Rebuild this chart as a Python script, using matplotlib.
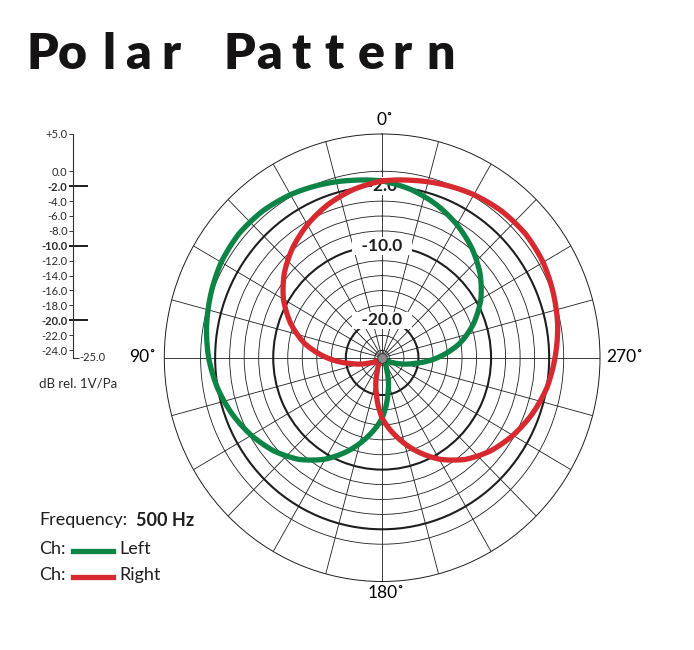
import numpy as np
import matplotlib.pyplot as plt
from matplotlib.lines import Line2D

W, H = 694, 650

# response in dB, angle counted counter-clockwise from 0 at the top
angles = list(range(0, 360, 10))
left_db = [-1.3, -0.85, -0.3, 0.25, 0.65, 0.8, 0.6, 0.1, -0.45, -1.1,
           -1.95, -3.0, -4.2, -5.55, -7.2, -9.3, -11.8, -14.4, -16.9, -20.3,
           -23.0, -24.3, -24.7, -24.6, -24.0, -22.8, -20.6, -17.4, -14.2, -11.6,
           -9.3, -7.4, -5.8, -4.4, -3.15, -2.1]
right_db = [-1.3, -2.1, -3.15, -4.4, -5.8, -7.4, -9.3, -11.6, -14.2, -17.4,
            -20.6, -22.8, -24.0, -24.6, -24.7, -24.3, -23.0, -20.3, -16.9, -14.4,
            -11.8, -9.3, -7.2, -5.55, -4.2, -3.0, -1.95, -1.2, -0.45, 0.1,
            0.6, 0.8, 0.65, 0.25, -0.3, -0.85]

ring_db = [0, -2, -4, -6, -8, -10, -12, -14, -16, -18, -20, -22, -24]
bold_db = [-2, -10, -20]
ring_labels = ['-2.0', '-10.0', '-20.0']
scale_ticks = [5, 0, -2, -4, -6, -8, -10, -12, -14, -16, -18, -20, -22, -24]
scale_labels = ['+5.0', '0.0', '-2.0', '-4.0', '-6.0', '-8.0', '-10.0', '-12.0',
                '-14.0', '-16.0', '-18.0', '-20.0', '-22.0', '-24.0']
degree_labels = ['0˚', '90˚', '180˚', '270˚']

GREEN = '#0b8446'
RED = '#d62a30'
INK = '#1e1e1e'
FONT = ['Lato', 'DejaVu Sans']

plt.rcParams['font.family'] = FONT

fig = plt.figure(figsize=(W / 100, H / 100), dpi=100)

# title, spaced out letter by letter
title = 'PolarPattern'
title_x = [42, 72.5, 108.5, 138, 170.5, 239.5, 269, 301.5, 334, 371, 401.5, 441]
for ch, x in zip(title, title_x):
    fig.text(x / W, 1 - 69 / H, ch, ha='center', va='baseline',
             fontsize=36, fontweight='heavy', color='#161314')

# polar plot (slightly squashed like the source)
ax = fig.add_axes([164.3 / W, (H - 581.5) / H, 435.7 / W, 447.5 / H],
                  projection='polar')
ax.set_aspect('auto')
ax.set_theta_zero_location('N')
ax.set_theta_direction(1)
ax.set_ylim(-25, 5)
ax.set_yticks(ring_db)
ax.set_yticklabels([])
ax.set_xticks(np.deg2rad(np.arange(0, 360, 15)))
ax.set_xticklabels([])
ax.tick_params(length=0)
ax.set_axisbelow(True)
ax.grid(True, color=INK, lw=0.6)
for val, gl in zip(ax.get_yticks(), ax.yaxis.get_gridlines()):
    if round(val) in bold_db:
        gl.set_linewidth(1.5)
ax.spines['polar'].set_linewidth(0.7)
ax.spines['polar'].set_color(INK)

for val, lab in zip(bold_db, ring_labels):
    ax.text(0, val, '  ' + lab + '  ', ha='center', va='center', fontsize=12.5,
            fontweight='bold', color=INK, zorder=2.5,
            bbox=dict(boxstyle='square,pad=0.05', fc='white', ec='none'))

th = np.deg2rad(angles + [360])
for vals, col in [(left_db, GREEN), (right_db, RED)]:
    line, = ax.plot(th, vals + vals[:1], color=col, lw=3.8, zorder=3,
                    solid_joinstyle='round')
    # let the polar transform draw curved segments between readings
    line.get_path()._interpolation_steps = 12
ax.plot([0], [-25], 'o', ms=7, color='#8a8a8a', mec='#333333', mew=0.6,
        zorder=4, clip_on=False)

# angle labels
fig.text(385 / W, 1 - 120 / H, degree_labels[0], ha='center', va='center',
         fontsize=12.5, color='black')
fig.text(156 / W, 1 - 357 / H, degree_labels[1], ha='right', va='center',
         fontsize=12.5, color='black')
fig.text(386 / W, 1 - 593 / H, degree_labels[2], ha='center', va='center',
         fontsize=12.5, color='black')
fig.text(606 / W, 1 - 357 / H, degree_labels[3], ha='left', va='center',
         fontsize=12.5, color='black')

# dB scale on the left
ax2 = fig.add_axes([73.3 / W, (H - 357.5) / H, 20 / W, 223.5 / H])
ax2.set_ylim(-25, 5)
ax2.set_xlim(0, 1)
ax2.patch.set_visible(False)
for side in ['right', 'top', 'bottom']:
    ax2.spines[side].set_visible(False)
ax2.spines['left'].set_linewidth(0.8)
ax2.spines['left'].set_color('#333333')
ax2.set_xticks([])
ax2.set_yticks(scale_ticks, scale_labels)
ax2.tick_params(axis='y', direction='out', length=3, width=0.7, pad=1.2,
                labelsize=8, color='#333333', labelcolor='#2b2b2b')
for val, tl in zip(scale_ticks, ax2.get_yticklabels()):
    if val in bold_db:
        tl.set_fontweight('bold')
ax2.hlines(bold_db, -0.2, 0.75, color=INK, lw=1.4, clip_on=False)
ax2.hlines([-25], 0, 0.3, color='#333333', lw=0.8, clip_on=False)
ax2.text(0.3, -25, '-25.0', ha='left', va='center', fontsize=8,
         color='#2b2b2b', clip_on=False)

fig.text(39 / W, 1 - 383 / H, 'dB rel. 1V/Pa', ha='left', va='center',
         fontsize=9.5, color='#2b2b2b')

# frequency / channel key
fig.text(39 / W, 1 - 520 / H, 'Frequency:', ha='left', va='center',
         fontsize=13, color='#1e1e1e')
fig.text(136 / W, 1 - 520 / H, '500 Hz', ha='left', va='center',
         fontsize=13, fontweight='bold', color='#1e1e1e')
for y, col, name in [(549, GREEN, 'Left'), (575, RED, 'Right')]:
    fig.text(39 / W, 1 - y / H, 'Ch:', ha='left', va='center', fontsize=13,
             color='#1e1e1e')
    fig.add_artist(Line2D([73 / W, 113 / W], [1 - (y + 2) / H] * 2,
                          color=col, lw=3.8, transform=fig.transFigure))
    fig.text(119 / W, 1 - y / H, name, ha='left', va='center', fontsize=13,
             color='#1e1e1e')

fig.savefig('out.png', dpi=100)
